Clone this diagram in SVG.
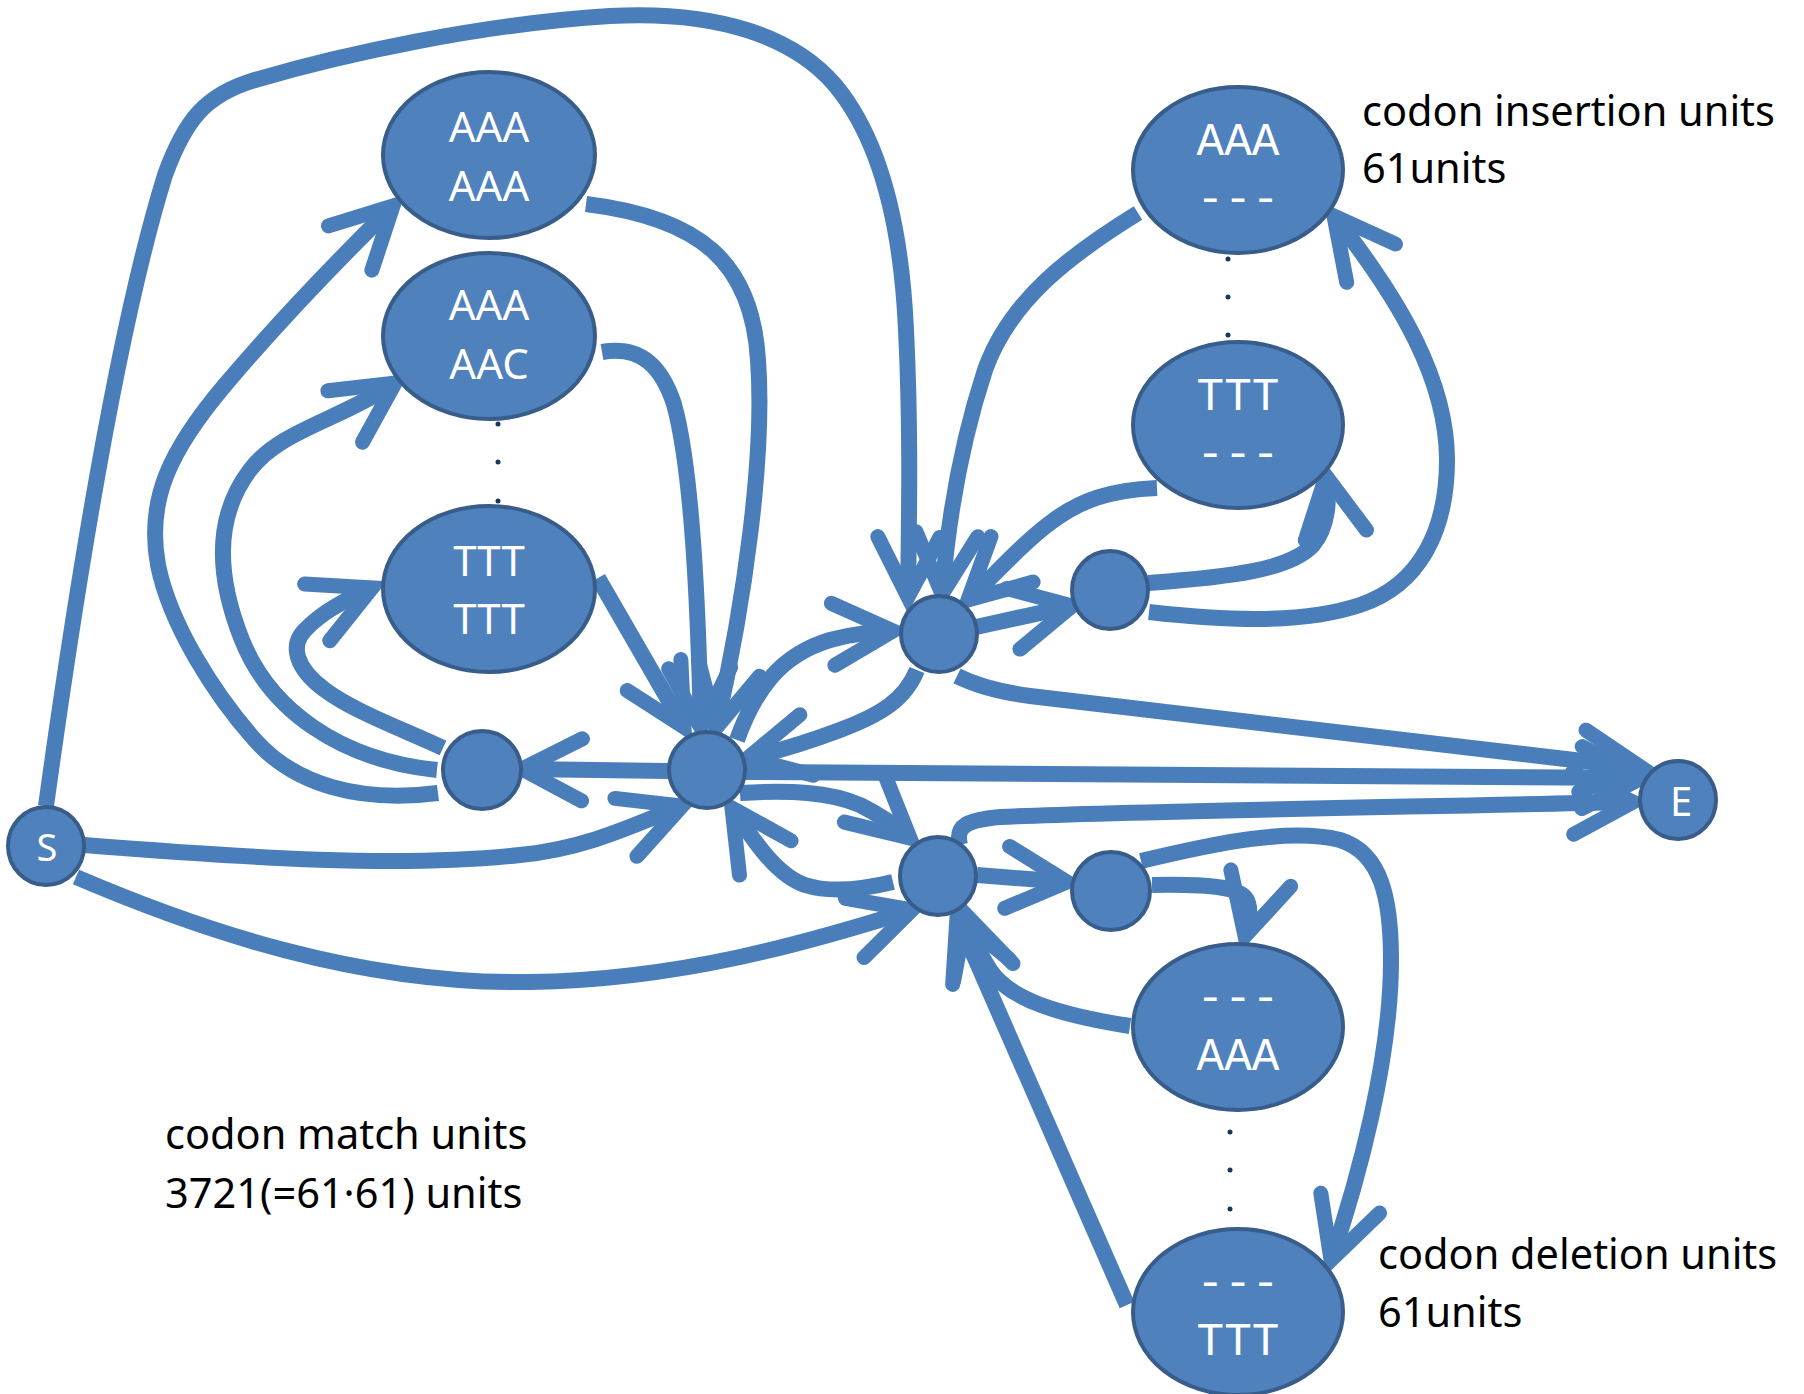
<svg xmlns="http://www.w3.org/2000/svg" width="1804" height="1394" viewBox="0 0 1804 1394">
<style>
.c{fill:none;stroke:#4A7EBB;stroke-width:16;marker-end:url(#ah)}
.n{fill:#4F81BD;stroke:#385D8A;stroke-width:4}
.t{font-family:"Noto Sans","Open Sans",sans-serif;fill:#fff;text-anchor:middle}
.tm{font-family:"Liberation Mono","DejaVu Sans Mono",monospace;font-size:46px;fill:#fff;text-anchor:middle}
.lb{font-family:"Noto Sans","Open Sans",sans-serif;font-size:41.5px;fill:#000}
.d{fill:#17375E}
</style>
<defs>
<marker id="ah" markerUnits="userSpaceOnUse" markerWidth="180" markerHeight="180" viewBox="-90 -90 180 180" refX="0" refY="0" orient="auto" overflow="visible">
<path d="M-60,-31 L0,0 L-60,31" fill="none" stroke="#4A7EBB" stroke-width="15" stroke-linecap="round" stroke-linejoin="miter" stroke-miterlimit="10"/>
</marker>
</defs>
<rect width="1804" height="1394" fill="#fff"/>
<g id="connectors">
<path class="c" d="M46,806 C 80,560 120,320 165,175 C 185,120 205,95 255,80 C 340,55 480,24 610,16 C 720,10 795,38 835,85 C 885,145 902,240 906,330 C 911,430 909,520 908,597"/>
<path class="c" d="M84,845 C 250,858 400,868 520,855 C 590,848 640,822 682,806"/>
<path class="c" d="M76,877 C 200,930 360,985 530,982 C 680,980 810,942 912,910"/>
<path class="c" d="M668,771 L522,769"/>
<path class="c" d="M438,793 C 360,803 295,785 255,740 C 215,695 170,625 158,565 C 146,500 170,450 225,385 C 280,320 340,258 393,206"/>
<path class="c" d="M437,770 C 340,760 270,710 242,640 C 218,580 212,520 250,470 C 280,430 340,420 395,383"/>
<path class="c" d="M443,748 C 400,728 355,712 325,690 C 295,668 290,645 305,630 C 322,612 345,600 372,588"/>
<path class="c" d="M586,204 C 700,218 752,262 758,360 C 765,455 745,600 716,728"/>
<path class="c" d="M602,352 C 642,345 662,368 674,404 C 692,470 698,600 701,728"/>
<path class="c" d="M598,578 L684,727"/>
<path class="c" d="M737,740 C 755,690 780,655 830,640 C 855,633 875,632 893,631"/>
<path class="c" d="M917,670 C 905,700 880,715 840,730 C 800,745 775,752 748,758"/>
<path class="c" d="M976,627 L1072,606"/>
<path class="c" d="M1157,488 C 1110,490 1080,500 1050,523 C 1020,545 995,575 968,600"/>
<path class="c" d="M1138,213 C 1070,255 1010,300 985,370 C 962,440 948,520 942,594"/>
<path class="c" d="M1148,583 C 1230,577 1290,570 1313,545 C 1328,527 1330,500 1326,476"/>
<path class="c" d="M1149,612 C 1220,620 1300,625 1360,605 C 1420,585 1447,530 1447,460 C 1447,380 1400,300 1334,216"/>
<path class="c" d="M746,772 L1642,778"/>
<path class="c" d="M957,676 Q 985,690 1030,696 L1642,768"/>
<path class="c" d="M960,845 C 955,825 968,820 1000,817 C 1100,812 1300,809 1633,802"/>
<path class="c" d="M740,793 C 790,790 830,792 860,805 C 880,815 895,825 910,838"/>
<path class="c" d="M893,882 C 860,890 830,893 805,885 C 775,875 750,835 732,808"/>
<path class="c" d="M977,875 L1067,882"/>
<path class="c" d="M1152,885 C 1205,884 1240,886 1247,900 C 1252,912 1248,925 1245,936"/>
<path class="c" d="M1141,861 C 1220,842 1290,828 1340,840 C 1382,853 1391,900 1391,960 C 1391,1060 1358,1180 1331,1260"/>
<path class="c" d="M1130,1026 C 1060,1015 1010,1000 990,970 C 980,955 972,935 966,915"/>
<path class="c" d="M1127,1305 L957,917"/>
</g>
<g id="M1"><ellipse class="n" cx="489" cy="155" rx="106" ry="83"/><text class="t" x="489" y="142" font-size="42">AAA</text><text class="t" x="489" y="201" font-size="42">AAA</text></g>
<g id="M2"><ellipse class="n" cx="489" cy="336" rx="106" ry="83"/><text class="t" x="489" y="320" font-size="42">AAA</text><text class="t" x="489" y="379" font-size="42">AAC</text></g>
<g id="M3"><ellipse class="n" cx="489" cy="589" rx="106" ry="83"/><text class="t" x="489" y="576" font-size="42">TTT</text><text class="t" x="489" y="634" font-size="42">TTT</text></g>
<g id="match-dots"><circle class="d" cx="498" cy="424" r="2.5"/><circle class="d" cx="498" cy="462" r="2.5"/><circle class="d" cx="498" cy="501" r="2.5"/></g>
<g id="I1"><ellipse class="n" cx="1238" cy="170" rx="105" ry="83"/><text class="tm" x="1238" y="155">AAA</text><text class="tm" x="1238" y="213">---</text></g>
<g id="I2"><ellipse class="n" cx="1238" cy="425" rx="105" ry="83"/><text class="tm" x="1238" y="410">TTT</text><text class="tm" x="1238" y="468">---</text></g>
<g id="ins-dots"><circle class="d" cx="1228" cy="259" r="2.5"/><circle class="d" cx="1228" cy="297" r="2.5"/><circle class="d" cx="1228" cy="335" r="2.5"/></g>
<g id="D1"><ellipse class="n" cx="1238" cy="1027" rx="105" ry="83"/><text class="tm" x="1238" y="1012">---</text><text class="tm" x="1238" y="1070">AAA</text></g>
<g id="D2"><ellipse class="n" cx="1238" cy="1312" rx="105" ry="83"/><text class="tm" x="1238" y="1297">---</text><text class="tm" x="1238" y="1355">TTT</text></g>
<g id="del-dots"><circle class="d" cx="1230" cy="1132" r="2.5"/><circle class="d" cx="1230" cy="1170" r="2.5"/><circle class="d" cx="1230" cy="1209" r="2.5"/></g>
<g id="S"><ellipse class="n" cx="46" cy="846" rx="38" ry="39"/><text class="t" x="47" y="861" font-size="38">S</text></g>
<g id="E"><ellipse class="n" cx="1678" cy="800" rx="38" ry="39"/><text class="t" x="1681" y="816" font-size="40">E</text></g>
<g id="L"><ellipse class="n" cx="482" cy="770" rx="39" ry="39"/></g>
<g id="C"><ellipse class="n" cx="707" cy="770" rx="38" ry="38"/></g>
<g id="U"><ellipse class="n" cx="939" cy="634" rx="38" ry="38"/></g>
<g id="UI"><ellipse class="n" cx="1110" cy="590" rx="38" ry="39"/></g>
<g id="W"><ellipse class="n" cx="938" cy="876" rx="38" ry="39"/></g>
<g id="DR"><ellipse class="n" cx="1111" cy="891" rx="39" ry="39"/></g>
<g id="labels">
<text class="lb" x="1362" y="126">codon insertion units</text>
<text class="lb" x="1362" y="183">61units</text>
<text class="lb" x="165" y="1149">codon match units</text>
<text class="lb" x="165" y="1208">3721(=61·61) units</text>
<text class="lb" x="1378" y="1269">codon deletion units</text>
<text class="lb" x="1378" y="1327">61units</text>
</g>
</svg>
